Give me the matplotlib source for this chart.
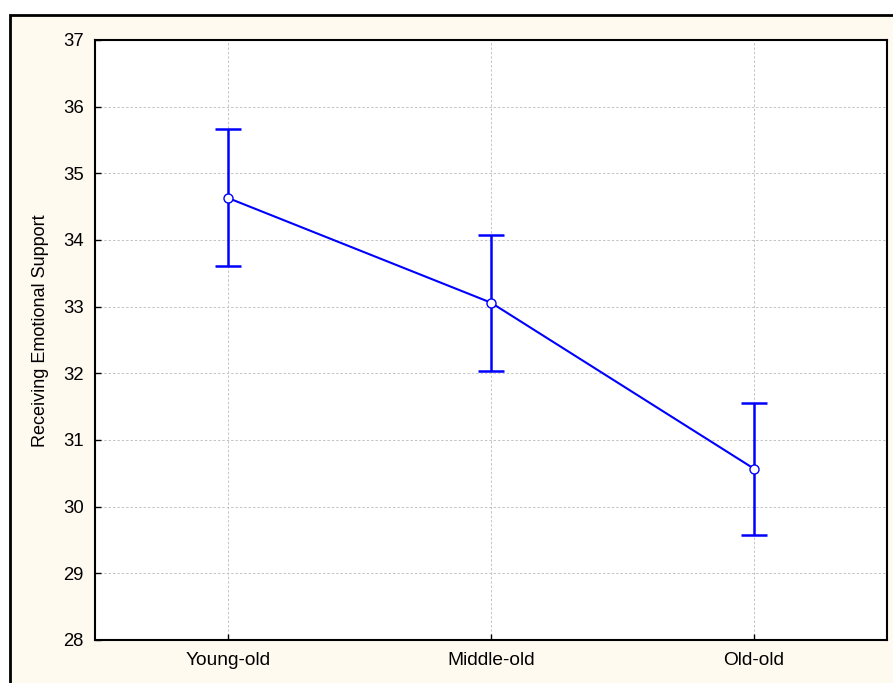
import matplotlib
matplotlib.use('Agg')
import matplotlib.pyplot as plt
from matplotlib.patches import Rectangle

groups = ['Young-old', 'Middle-old', 'Old-old']
means = [34.63, 33.06, 30.57]
upper = [35.66, 34.07, 31.55]
lower = [33.61, 32.03, 29.58]

plt.rcParams['font.family'] = ['Liberation Sans', 'DejaVu Sans']

fig = plt.figure(figsize=(8.93, 6.83), dpi=100, facecolor='white')
# cream panel with black frame (left/top edges visible)
fig.patches.append(Rectangle((9.5 / 893, -0.1), 1.2, 1.1 - 15.5 / 683,
                             transform=fig.transFigure, facecolor='#fffaf0',
                             edgecolor='black', linewidth=2, zorder=-10))

ax = fig.add_axes([95 / 893, 1 - 640 / 683, 792 / 893, 600 / 683])
ax.set_zorder(5)
ax.set_facecolor('white')

x = list(range(len(groups)))
err_lo = [m - l for m, l in zip(means, lower)]
err_hi = [u - m for m, u in zip(means, upper)]

ax.errorbar(x, means, yerr=[err_lo, err_hi], fmt='none', ecolor='#0000ff',
            elinewidth=1.8, capsize=9.5, capthick=1.8, zorder=3)
ax.plot(x, means, color='#0000ff', linewidth=1.5, marker='o', markersize=6.5,
        markerfacecolor='white', markeredgecolor='#0000ff', markeredgewidth=1,
        zorder=4)

ax.set_xlim(-0.506, 2.506)
ax.set_ylim(28, 37)
ax.set_xticks(x)
ax.set_xticklabels(groups)
ax.set_yticks(range(28, 38))
ax.grid(True, color='#c4c4c4', linestyle=(0, (2.5, 2)), linewidth=0.7)
ax.tick_params(direction='in', length=4, width=1)
ax.tick_params(axis='y', labelsize=13.3, pad=8)
ax.tick_params(axis='x', labelsize=13.8, pad=8.5)
for s in ax.spines.values():
    s.set_linewidth(1.5)

ax.set_ylabel('Receiving Emotional Support', fontsize=13)
ax.yaxis.set_label_coords(-0.058, 0.515)

fig.savefig('out.png', dpi=100, facecolor=fig.get_facecolor())
